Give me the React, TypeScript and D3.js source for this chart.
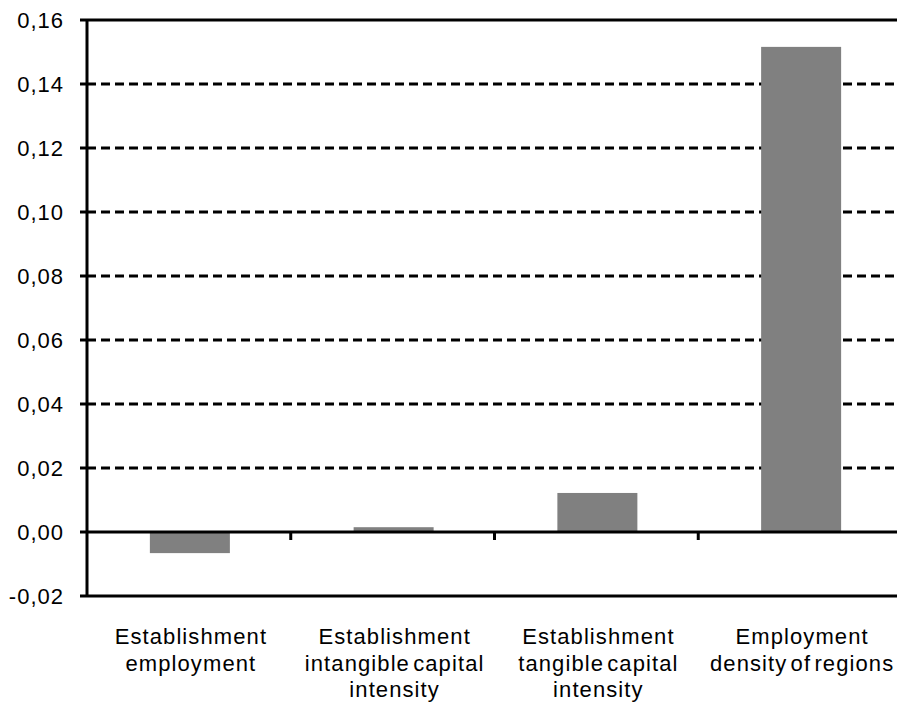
import { useRef, useEffect } from "react";
import * as d3 from "d3";

const categories = [
    ["Establishment", "employment"],
    ["Establishment", "intangible capital", "intensity"],
    ["Establishment", "tangible capital", "intensity"],
    ["Employment", "density of regions"],
];
const values = [-0.0066, 0.0015, 0.0122, 0.1516];
const yTicks = [-0.02, 0, 0.02, 0.04, 0.06, 0.08, 0.1, 0.12, 0.14, 0.16];

const width = 897;
const height = 702;

export default function App() {
    const svgRef = useRef<SVGSVGElement | null>(null);

    useEffect(() => {
        if (!svgRef.current) return;
        const svg = d3.select(svgRef.current);
        svg.selectAll("*").remove();

        const margin = { top: 20, right: -5, bottom: 106, left: 87 };
        const font = "'Liberation Sans', Arial, sans-serif";

        const x = d3
            .scaleBand()
            .domain(categories.map((_, i) => String(i)))
            .range([margin.left, width - margin.right])
            .paddingInner(0.6)
            .paddingOuter(0.3);

        const y = d3
            .scaleLinear()
            .domain([-0.02, 0.16])
            .range([height - margin.bottom, margin.top]);

        const step = x.step();
        const bandStart = (i: number) => margin.left + i * ((width - margin.right - margin.left) / categories.length);

        // dashed gridlines
        svg
            .append("g")
            .selectAll("line")
            .data(yTicks.filter(t => t > 0.001 && t < 0.155))
            .enter()
            .append("line")
            .attr("x1", margin.left)
            .attr("x2", width)
            .attr("y1", d => y(d))
            .attr("y2", d => y(d))
            .attr("stroke", "#000")
            .attr("stroke-width", 3)
            .attr("stroke-dasharray", "9,5");

        // bars
        svg
            .append("g")
            .selectAll("rect")
            .data(values)
            .enter()
            .append("rect")
            .attr("x", (_, i) => bandStart(i) + (step - 80) / 2 + 1)
            .attr("width", 80)
            .attr("y", d => y(Math.max(0, d)))
            .attr("height", d => Math.abs(y(d) - y(0)))
            .attr("fill", "#808080");

        // frame: top and bottom lines
        [0.16, -0.02].forEach(v => {
            svg
                .append("line")
                .attr("x1", margin.left)
                .attr("x2", width)
                .attr("y1", y(v))
                .attr("y2", y(v))
                .attr("stroke", "#000")
                .attr("stroke-width", 3);
        });

        // zero axis with category ticks
        svg
            .append("line")
            .attr("x1", margin.left)
            .attr("x2", width)
            .attr("y1", y(0))
            .attr("y2", y(0))
            .attr("stroke", "#000")
            .attr("stroke-width", 3);

        svg
            .append("g")
            .selectAll("line")
            .data([1, 2, 3])
            .enter()
            .append("line")
            .attr("x1", d => bandStart(d))
            .attr("x2", d => bandStart(d))
            .attr("y1", y(0))
            .attr("y2", y(0) + 8)
            .attr("stroke", "#000")
            .attr("stroke-width", 3);

        // y axis
        svg
            .append("line")
            .attr("x1", margin.left)
            .attr("x2", margin.left)
            .attr("y1", y(0.16))
            .attr("y2", y(-0.02))
            .attr("stroke", "#000")
            .attr("stroke-width", 3);

        const yAxis = svg.append("g");
        yAxis
            .selectAll("line")
            .data(yTicks)
            .enter()
            .append("line")
            .attr("x1", margin.left - 7)
            .attr("x2", margin.left)
            .attr("y1", d => y(d))
            .attr("y2", d => y(d))
            .attr("stroke", "#000")
            .attr("stroke-width", 3);

        yAxis
            .selectAll("text")
            .data(yTicks)
            .enter()
            .append("text")
            .attr("x", 64)
            .attr("y", d => y(d))
            .attr("dy", "0.36em")
            .attr("text-anchor", "end")
            .attr("font-family", font)
            .attr("font-size", 22)
            .attr("letter-spacing", 1)
            .text(d => d3.format(".2f")(d).replace(".", ",").replace("−", "-"));

        // category labels
        const labels = svg.append("g");
        categories.forEach((lines, i) => {
            const cx = bandStart(i) + step / 2 + 2;
            lines.forEach((line, j) => {
                labels
                    .append("text")
                    .attr("x", cx)
                    .attr("y", 644 + j * 26.5)
                    .attr("text-anchor", "middle")
                    .attr("font-family", font)
                    .attr("font-size", 22)
                    .attr("letter-spacing", 1.1)
                    .attr("word-spacing", -4)
                    .text(line);
            });
        });
    }, []);

    return (
        <svg
            ref={svgRef}
            width={width}
            height={height}
            style={{ position: "absolute", left: 0, top: 0, background: "#fff" }}
        />
    );
}
